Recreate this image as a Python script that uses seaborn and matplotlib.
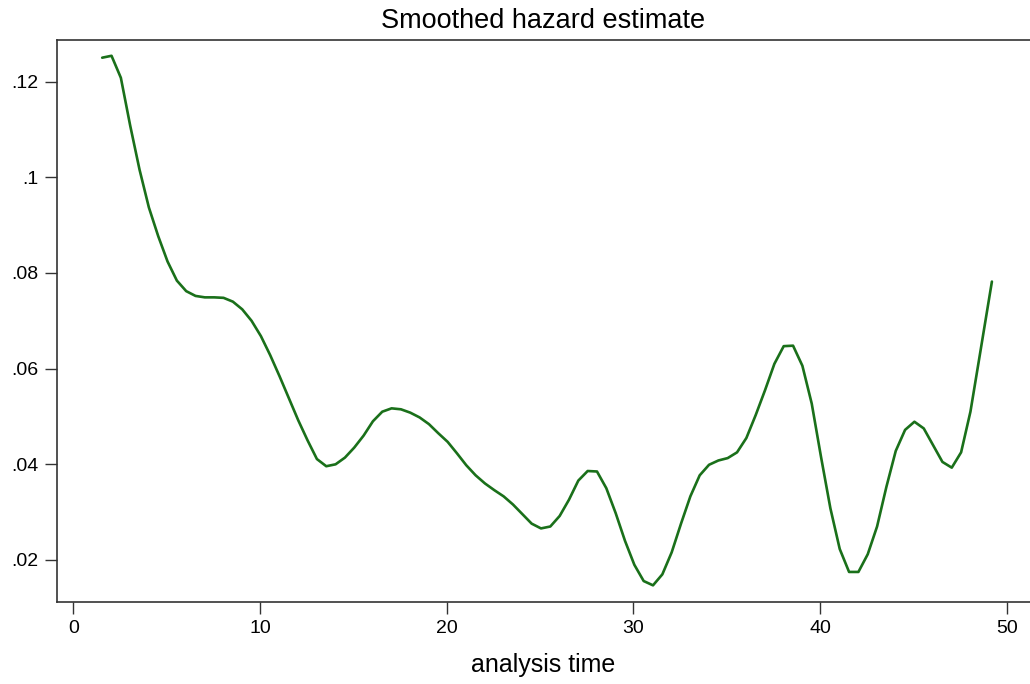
import numpy as np
import pandas as pd
import matplotlib
matplotlib.use("Agg")
import matplotlib.pyplot as plt
import seaborn as sns

# Data
analysis_time = [1.55, 2.05, 2.55, 3.05, 3.55, 4.05, 4.55, 5.05, 5.55, 6.05,
                 6.55, 7.05, 7.55, 8.05, 8.55, 9.05, 9.55, 10.05, 10.55, 11.05,
                 11.55, 12.05, 12.55, 13.05, 13.55, 14.05, 14.55, 15.05, 15.55, 16.05,
                 16.55, 17.05, 17.55, 18.05, 18.55, 19.05, 19.55, 20.05, 20.55, 21.05,
                 21.55, 22.05, 22.55, 23.05, 23.55, 24.05, 24.55, 25.05, 25.55, 26.05,
                 26.55, 27.05, 27.55, 28.05, 28.55, 29.05, 29.55, 30.05, 30.55, 31.05,
                 31.55, 32.05, 32.55, 33.05, 33.55, 34.05, 34.55, 35.05, 35.55, 36.05,
                 36.55, 37.05, 37.55, 38.05, 38.55, 39.05, 39.55, 40.05, 40.55, 41.05,
                 41.55, 42.05, 42.55, 43.05, 43.55, 44.05, 44.55, 45.05, 45.55, 46.05,
                 46.55, 47.05, 47.55, 48.05, 48.55, 49.2]
hazard = [0.1250, 0.1254, 0.1208, 0.1108, 0.1016, 0.0937, 0.0877, 0.0824, 0.0784, 0.0762,
          0.0752, 0.0749, 0.0749, 0.0748, 0.0740, 0.0724, 0.0700, 0.0668, 0.0628, 0.0584,
          0.0538, 0.0492, 0.0450, 0.0411, 0.0396, 0.0400, 0.0414, 0.0435, 0.0460, 0.0490,
          0.0510, 0.0517, 0.0515, 0.0508, 0.0498, 0.0484, 0.0465, 0.0447, 0.0423, 0.0398,
          0.0377, 0.0360, 0.0346, 0.0333, 0.0316, 0.0296, 0.0276, 0.0266, 0.0270, 0.0292,
          0.0326, 0.0366, 0.0386, 0.0385, 0.0350, 0.0298, 0.0240, 0.0190, 0.0156, 0.0147,
          0.0170, 0.0216, 0.0276, 0.0333, 0.0377, 0.0399, 0.0408, 0.0413, 0.0425, 0.0455,
          0.0503, 0.0555, 0.0610, 0.0647, 0.0648, 0.0606, 0.0527, 0.0415, 0.0308, 0.0223,
          0.0175, 0.0175, 0.0212, 0.0270, 0.0353, 0.0428, 0.0472, 0.0489, 0.0475, 0.0440,
          0.0405, 0.0393, 0.0425, 0.0510, 0.0628, 0.0782]

xticks = [0, 10, 20, 30, 40, 50]
xtick_labels = ["0", "10", "20", "30", "40", "50"]
yticks = [0.02, 0.04, 0.06, 0.08, 0.10, 0.12]
ytick_labels = [".02", ".04", ".06", ".08", ".1", ".12"]

title = "Smoothed hazard estimate"
xlabel = "analysis time"

sns.set_style("white")
plt.rcParams["font.family"] = ["Liberation Sans", "DejaVu Sans"]

df = pd.DataFrame({"t": analysis_time, "h": hazard})

fig = plt.figure(figsize=(10.30, 6.84), dpi=100)
ax = fig.add_axes([57 / 1030, 1 - 601.7 / 684, 1 - 57 / 1030, (601.7 - 40) / 684])

sns.lineplot(data=df, x="t", y="h", ax=ax, color="#1a701a", linewidth=1.9)

ax.set_xlim(-0.87, 51.24)
ax.set_ylim(0.01128, 0.1287)
ax.set_xticks(xticks)
ax.set_xticklabels(xtick_labels)
ax.set_yticks(yticks)
ax.set_yticklabels(ytick_labels)

for side in ["left", "bottom", "top"]:
    ax.spines[side].set_visible(True)
    ax.spines[side].set_color("#333333")
    ax.spines[side].set_linewidth(1.2)
ax.spines["right"].set_visible(False)

ax.tick_params(axis="both", which="major", direction="out", length=8.5, width=1.0,
               color="#333333", labelsize=14, labelcolor="black", pad=5,
               left=True, bottom=True)

ax.set_title(title, fontsize=19.5, pad=9, color="black")
ax.set_xlabel(xlabel, fontsize=18, labelpad=11, color="black")
ax.set_ylabel("")
ax.grid(False)

fig.savefig("out.png", dpi=100)
